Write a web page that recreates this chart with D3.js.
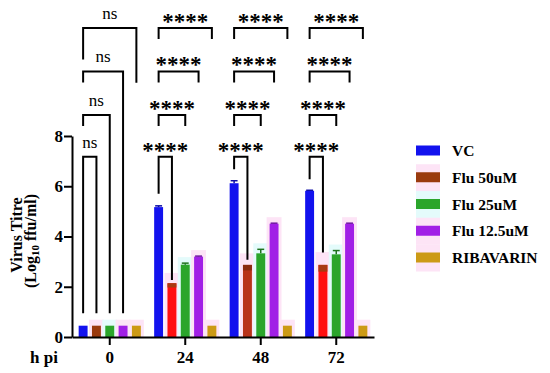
<!DOCTYPE html>
<html>
<head>
<meta charset="utf-8">
<script src="https://cdn.jsdelivr.net/npm/d3@7"></script>
<style>
  body { margin: 0; background: #fff; }
  svg { display: block; }
</style>
</head>
<body>
<div id="demo"></div>
<script>
// Time points (h pi) and treatments.
const timePoints = ["0", "24", "48", "72"];
const series = ["VC", "Flu 50uM", "Flu 25uM", "Flu 12.5uM", "RIBAVARIN"];
const seriesColors = ["#1212ee", "#9a3a0e", "#2ba52b", "#a11fe6", "#cc9a16"];

// Virus titre (log10 ffu/ml), one array per treatment, order = timePoints.
const vcValues = [0.45, 5.17, 6.12, 5.82];
const flu50Values = [0.45, 2.14, 2.87, 2.87];
const flu25Values = [0.45, 2.88, 3.33, 3.29];
const flu125Values = [0.45, 3.2, 4.51, 4.51];
const ribaValues = [0.45, 0.45, 0.45, 0.45];

// Error (SEM) per treatment.
const vcErr = [0, 0.05, 0.1, 0.02];
const flu50Err = [0, 0.17, 0.22, 0.27];
const flu25Err = [0, 0.06, 0.16, 0.15];
const flu125Err = [0, 0.02, 0.02, 0.02];
const ribaErr = [0, 0, 0, 0];

// Flu 50uM bars are printed red in some groups.
const flu50BodyColors = ["#9a3a0e", "#ff1010", "#b8321a", "#ff1010"];

const yTicks = [0, 2, 4, 6, 8];

// Significance brackets: VC vs treatment inside each time point.
const bracketGroups = ["0", "0", "0", "0", "24", "24", "24", "24", "48", "48", "48", "48", "72", "72", "72", "72"];
const bracketTargets = [1, 2, 3, 4, 1, 2, 3, 4, 1, 2, 3, 4, 1, 2, 3, 4];
const bracketLabels = ["ns", "ns", "ns", "ns", "****", "****", "****", "****", "****", "****", "****", "****", "****", "****", "****", "****"];
const bracketTops = [7.17, 8.84, 10.57, 12.3];
// where legs stop (y value); null = short leg
const bracketLeftEnds = [0.95, null, null, 11.04, 5.7, null, null, null, 6.68, null, null, null, 6.28, null, null, null];
const bracketRightEnds = [0.95, 0.95, 0.95, 10.12, 2.27, null, null, null, 3.07, null, null, null, 3.36, null, null, null];

const values = [vcValues, flu50Values, flu25Values, flu125Values, ribaValues];
const errs = [vcErr, flu50Err, flu25Err, flu125Err, ribaErr];

const w = 550, h = 373;
const serif = "Liberation Serif";

const svg = d3.select("#demo").append("svg")
    .attr("width", w)
    .attr("height", h);

const yScale = d3.scaleLinear().domain([0, 8]).range([337, 136]);
const x0 = d3.scaleBand().domain(timePoints).range([72, 374]);
const x1 = d3.scaleBand().domain(d3.range(series.length))
    .range([0, x0.bandwidth()]).paddingInner(0.33).paddingOuter(0.5);

// flatten bar data
let bars = [];
timePoints.forEach((t, gi) => {
    series.forEach((s, si) => {
        bars.push({ t: t, si: si, v: values[si][gi], e: errs[si][gi], gi: gi });
    });
});

// pale halos behind the bars (as in the printed figure)
svg.selectAll("rect.halo")
    .data(bars.filter(d => d.si > 0))
    .enter()
    .append("rect")
    .attr("class", "halo")
    .attr("x", d => x0(d.t) + x1(d.si) - 3)
    .attr("y", d => yScale(d.v + d.e) - 6)
    .attr("width", x1.bandwidth() + 6)
    .attr("height", d => yScale(0) - yScale(d.v + d.e) + 6)
    .attr("fill", d => d.si === 2 ? "#e4fbfb" : "#fde4f6");

// bars
svg.selectAll("rect.bar")
    .data(bars)
    .enter()
    .append("rect")
    .attr("class", "bar")
    .attr("x", d => x0(d.t) + x1(d.si))
    .attr("y", d => yScale(d.v))
    .attr("width", x1.bandwidth())
    .attr("height", d => yScale(0) - yScale(d.v))
    .attr("fill", d => d.si === 1 ? flu50BodyColors[d.gi] : seriesColors[d.si]);

// Flu 50 error band drawn as darker cap
svg.selectAll("rect.cap50")
    .data(bars.filter(d => d.si === 1 && d.e > 0))
    .enter()
    .append("rect")
    .attr("x", d => x0(d.t) + x1(d.si))
    .attr("y", d => yScale(d.v))
    .attr("width", x1.bandwidth())
    .attr("height", d => yScale(d.v - d.e) - yScale(d.v))
    .attr("fill", d => d.gi === 2 ? "#8a2a10" : "#a83a12");

// error whiskers for the other series
const whisk = bars.filter(d => d.si !== 1 && d.e > 0);
svg.selectAll("line.err")
    .data(whisk)
    .enter()
    .append("line")
    .attr("x1", d => x0(d.t) + x1(d.si) + x1.bandwidth() / 2)
    .attr("x2", d => x0(d.t) + x1(d.si) + x1.bandwidth() / 2)
    .attr("y1", d => yScale(d.v))
    .attr("y2", d => yScale(d.v + d.e))
    .attr("stroke", d => d3.color(seriesColors[d.si]).darker(1))
    .attr("stroke-width", 1.5);
svg.selectAll("line.errcap")
    .data(whisk)
    .enter()
    .append("line")
    .attr("x1", d => x0(d.t) + x1(d.si) + 1)
    .attr("x2", d => x0(d.t) + x1(d.si) + x1.bandwidth() - 1)
    .attr("y1", d => yScale(d.v + d.e))
    .attr("y2", d => yScale(d.v + d.e))
    .attr("stroke", d => d3.color(seriesColors[d.si]).darker(1))
    .attr("stroke-width", 1.5);

// y axis
const yAxis = d3.axisLeft(yScale).tickValues(yTicks).tickSize(8).tickSizeOuter(0).tickPadding(1);
const gy = svg.append("g")
    .attr("transform", "translate(72,0)")
    .call(yAxis);
gy.attr("font-family", serif);
gy.select(".domain").attr("stroke-width", 2);
gy.selectAll(".tick line").attr("stroke-width", 2);
gy.selectAll(".tick text")
    .attr("font-family", serif)
    .attr("font-weight", "bold")
    .attr("font-size", 17)
    .attr("fill", "#000");

// x axis
const xAxis = d3.axisBottom(x0).tickSize(8).tickSizeOuter(0).tickPadding(6);
const gx = svg.append("g")
    .attr("transform", "translate(0," + yScale(0) + ")")
    .call(xAxis);
gx.attr("font-family", serif);
gx.select(".domain").attr("stroke-width", 2);
gx.selectAll(".tick line").attr("stroke-width", 2);
gx.selectAll(".tick text")
    .attr("font-family", serif)
    .attr("font-weight", "bold")
    .attr("font-size", 17)
    .attr("fill", "#000");

svg.append("text")
    .attr("x", 30)
    .attr("y", 363)
    .attr("font-family", serif)
    .attr("font-weight", "bold")
    .attr("font-size", 17)
    .text("h pi");

// y title
svg.append("text")
    .attr("transform", "translate(22,235) rotate(-90)")
    .attr("text-anchor", "middle")
    .attr("font-family", serif)
    .attr("font-weight", "bold")
    .attr("font-size", 16)
    .text("Virus Titre");
const t2 = svg.append("text")
    .attr("transform", "translate(36,241) rotate(-90)")
    .attr("text-anchor", "middle")
    .attr("font-family", serif)
    .attr("font-weight", "bold")
    .attr("font-size", 16);
t2.append("tspan").text("(Log");
t2.append("tspan").attr("font-size", 11).attr("dy", 3).text("10");
t2.append("tspan").attr("dy", -3).text(" ffu/ml)");

// significance brackets
const short = 11;
bracketGroups.forEach((g, i) => {
    const level = i % 4;
    const xl = x0(g) + x1(0) + x1.bandwidth() / 2;
    const xr = x0(g) + x1(bracketTargets[i]) + x1.bandwidth() / 2;
    const yt = yScale(bracketTops[level]);
    const yl = bracketLeftEnds[i] === null ? yt + short : yScale(bracketLeftEnds[i]);
    const yr = bracketRightEnds[i] === null ? yt + short : yScale(bracketRightEnds[i]);
    svg.append("path")
        .attr("d", `M${xl},${yl}V${yt}H${xr}V${yr}`)
        .attr("fill", "none")
        .attr("stroke", "#000")
        .attr("stroke-width", 2);
    const isNs = bracketLabels[i] === "ns";
    svg.append("text")
        .attr("x", (xl + xr) / 2)
        .attr("y", isNs ? yt - 9 : yt + 1)
        .attr("text-anchor", "middle")
        .attr("font-family", serif)
        .attr("font-weight", isNs ? "normal" : "bold")
        .attr("font-size", isNs ? 17 : 23)
        .text(bracketLabels[i]);
});

// legend
const legend = svg.append("g").attr("transform", "translate(416,0)");
const ly = d3.scalePoint().domain(series).range([150.5, 257.5]);
legend.selectAll("rect.lhalo")
    .data(series.slice(1))
    .enter()
    .append("rect")
    .attr("x", 0)
    .attr("y", d => ly(d) - 13)
    .attr("width", 24)
    .attr("height", 27)
    .attr("fill", (d, i) => i === 1 ? "#e4fbfb" : "#fde4f6");
legend.selectAll("rect.sw")
    .data(series)
    .enter()
    .append("rect")
    .attr("x", 0)
    .attr("y", d => ly(d) - 5)
    .attr("width", 24)
    .attr("height", 10)
    .attr("fill", (d, i) => seriesColors[i]);
legend.selectAll("text")
    .data(series)
    .enter()
    .append("text")
    .attr("x", 36)
    .attr("y", d => ly(d) + 5.5)
    .attr("font-family", serif)
    .attr("font-weight", "bold")
    .attr("font-size", 15.5)
    .text(d => d);
</script>
</body>
</html>
